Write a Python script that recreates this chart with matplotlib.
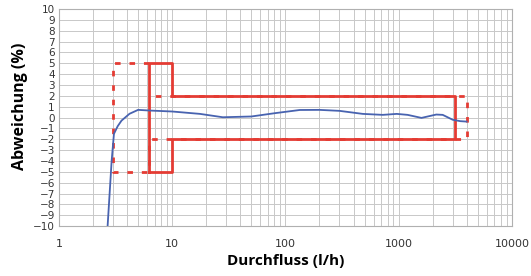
import numpy as np
import matplotlib.pyplot as plt
from matplotlib.ticker import FixedLocator, LogLocator, NullFormatter

flow = [2.69, 2.92, 3.06, 3.3, 3.57, 4.2, 5.0, 6.3, 10, 17.6, 28, 50, 80, 134, 200, 300,
        482, 724, 962, 1200, 1590, 2150, 2450, 3000, 3500, 3980]
dev = [-10, -4.0, -1.5, -0.8, -0.28, 0.35, 0.71, 0.65, 0.56, 0.34, 0.03, 0.1, 0.4, 0.7,
       0.71, 0.62, 0.34, 0.25, 0.34, 0.25, -0.03, 0.28, 0.25, -0.2, -0.33, -0.37]

# tolerance envelopes
solid_x = [6.25, 6.25, 10, 10, 3130, 3130, 10, 10, 6.25]
solid_y = [-5, 5, 5, 2, 2, -2, -2, -5, -5]
dash_x = [6.25, 3, 3, 6.25, 6.25, 4000, 4000, 6.25]
dash_y = [5, 5, -5, -5, -2, -2, 2, 2]

red = "#e43b33"
blue = "#4863b0"

fig = plt.figure(figsize=(5.31, 2.76), dpi=100)
ax = fig.add_axes([0.111, 0.181, 0.853, 0.786])

ax.plot(dash_x, dash_y, color=red, lw=2, ls=(0, (2.0, 3.2)), zorder=3)
ax.plot(solid_x, solid_y, color=red, lw=2, zorder=4)
ax.plot(flow, dev, color=blue, lw=1.3, zorder=5)

ax.set_xscale("log")
ax.set_xlim(1, 10000)
ax.set_ylim(-10, 10)
ax.yaxis.set_major_locator(FixedLocator(np.arange(-10, 11, 1)))
ax.xaxis.set_major_locator(FixedLocator([1, 10, 100, 1000, 10000]))
ax.xaxis.set_minor_locator(LogLocator(base=10, subs=np.arange(2, 10)))
ax.xaxis.set_minor_formatter(NullFormatter())
ax.set_xticklabels(["1", "10", "100", "1000", "10000"])

ax.grid(True, which="both", color="#c8c8c8", lw=0.7)
ax.set_axisbelow(True)
for s in ax.spines.values():
    s.set_color("#b0b0b0")
ax.tick_params(which="both", length=0, labelsize=7.5, labelcolor="#333333", pad=3)
ax.tick_params(axis="x", pad=9, labelsize=8)

ax.set_xlabel("Durchfluss (l/h)", fontsize=11, fontweight="bold", family="Open Sans", labelpad=4)
ax.set_ylabel("Abweichung (%)", fontsize=11.5, fontweight="bold", family="Open Sans")
ax.yaxis.set_label_coords(-0.068, 0.553)

fig.savefig("out.png", dpi=100)
